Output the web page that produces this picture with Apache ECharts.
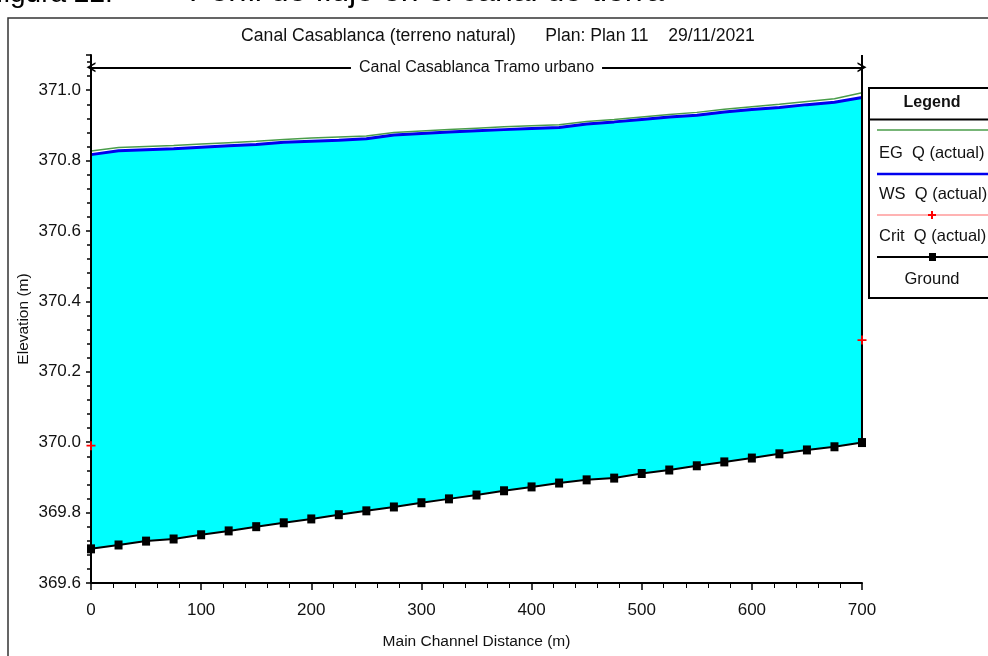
<!DOCTYPE html>
<html><head><meta charset="utf-8">
<script src="https://cdn.jsdelivr.net/npm/echarts/dist/echarts.min.js"></script>
<style>html,body{margin:0;padding:0;background:#fff}#c{width:988px;height:656px}</style>
</head><body><div id="c"></div><script>
// ---- data ----
const distances = [0,25,50,75,100,125,150,175,200,225,250,275,300,325,350,375,400,425,450,475,500,525,550,575,600,625,650,675,700];
const groundElev = [369.697,369.708,369.719,369.725,369.737,369.748,369.760,369.771,369.782,369.794,369.805,369.816,369.828,369.839,369.850,369.862,369.873,369.884,369.893,369.898,369.911,369.921,369.933,369.944,369.955,369.967,369.978,369.987,369.999];
const wsElev = [370.817,370.828,370.831,370.834,370.838,370.842,370.846,370.852,370.855,370.858,370.862,370.873,370.877,370.881,370.885,370.888,370.891,370.894,370.904,370.910,370.917,370.924,370.929,370.938,370.945,370.951,370.959,370.966,370.979];
const egElev = [370.827,370.837,370.840,370.843,370.847,370.851,370.855,370.860,370.864,370.867,370.870,370.880,370.884,370.888,370.892,370.896,370.899,370.902,370.911,370.917,370.924,370.931,370.937,370.946,370.953,370.960,370.968,370.976,370.993];
const critDist = [0,700];
const critElev = [369.99,370.29];
const reachName = 'Canal Casablanca Tramo urbano';
const reachLevel = 371.065;
const chartTitle = 'Canal Casablanca (terreno natural)      Plan: Plan 11    29/11/2021';
const legendNames = ['EG  Q (actual)','WS  Q (actual)','Crit  Q (actual)','Ground'];

const FONT = '"Liberation Sans",Arial,sans-serif';
const pairs = (xs, ys) => xs.map((x,i)=>[x, ys[i]]);
const plusPath = 'path://M4,0H6V4H10V6H6V10H4V6H0V4H4Z';
const chevron = 'path://M5,0L10,9L8.2,9L5,3.4L1.8,9L0,9Z';

const chart = echarts.init(document.getElementById('c'), null, {renderer:'canvas'});
const option = {
  animation:false,
  backgroundColor:'#fff',
  grid:{left:91, right:126, top:55, bottom:73, containLabel:false, outerBoundsMode:'none'},
  xAxis:{
    type:'value', min:0, max:700, interval:100, z:5,
    name:'Main Channel Distance (m)', nameLocation:'middle', nameGap:51,
    nameTextStyle:{fontFamily:FONT, fontSize:15.5, color:'#111'},
    axisLine:{show:true, onZero:false, lineStyle:{color:'#000', width:2}},
    axisTick:{show:true, length:7, lineStyle:{color:'#000', width:1.5}},
    minorTick:{show:true, splitNumber:5, length:5, lineStyle:{color:'#000', width:1}},
    axisLabel:{fontFamily:FONT, fontSize:17, color:'#111', margin:19},
    splitLine:{show:false}
  },
  yAxis:{
    type:'value', min:369.6, max:371.1, interval:0.2, z:5,
    name:'Elevation (m)', nameLocation:'middle', nameGap:59, nameRotate:90, nameMoveOverlap:false,
    nameTextStyle:{fontFamily:FONT, fontSize:15.5, color:'#111'},
    axisLine:{show:true, onZero:false, lineStyle:{color:'#000', width:2}},
    axisTick:{show:true, length:5, lineStyle:{color:'#000', width:1.5}},
    minorTick:{show:true, splitNumber:5, length:4, lineStyle:{color:'#000', width:1.5}},
    axisLabel:{fontFamily:FONT, fontSize:17, color:'#111', margin:10, showMaxLabel:false,
      formatter:v=>v.toFixed(1)},
    splitLine:{show:false}
  },
  series:[
    {type:'line', name:'wsFill', data:pairs(distances, wsElev), symbol:'none', z:-2,
     lineStyle:{opacity:0}, areaStyle:{color:'#00FFFF', opacity:1, origin:'start'}, silent:true},
    {type:'line', name:'groundFill', data:pairs(distances, groundElev), symbol:'none', z:-1,
     lineStyle:{opacity:0}, areaStyle:{color:'#FFFFFF', opacity:1, origin:'start'}, silent:true},
    {type:'line', name:legendNames[3], data:pairs(distances, groundElev), symbol:'rect', symbolSize:[8,9],
     itemStyle:{color:'#000'}, lineStyle:{color:'#000', width:2}, z:6,
     markLine:{silent:true, symbol:'none', animation:false,
       lineStyle:{color:'#000', width:2, type:'solid'},
       label:{show:false},
       data:[[{coord:[700, groundElev[groundElev.length-1]]},{coord:[700, 371.1]}]]}},
    {type:'line', name:legendNames[1], data:pairs(distances, wsElev), symbol:'none',
     lineStyle:{color:'#0000EE', width:3}, z:4},
    {type:'line', name:legendNames[0], data:pairs(distances, egElev), symbol:'none',
     lineStyle:{color:'#4a9d4a', width:1.5}, z:4,
     markLine:{silent:true, symbol:[chevron, chevron], symbolSize:[10,9], animation:false,
       lineStyle:{color:'#000', width:2, type:'solid'},
       label:{show:true, position:'insideMiddle', formatter:reachName, fontFamily:FONT, fontSize:16,
         color:'#111', backgroundColor:'#fff', padding:[1,8]},
       data:[[{coord:[0, reachLevel]},{coord:[700, reachLevel]}]]}},
    {type:'line', name:legendNames[2], data:pairs(critDist, critElev), symbol:plusPath, symbolSize:9,
     itemStyle:{color:'#ff0000'}, lineStyle:{width:0, opacity:0}, z:7}
  ],
  graphic:[
    {type:'rect', shape:{x:8, y:18, width:1000, height:700}, style:{fill:'none', stroke:'#333', lineWidth:1.5}, z:100, silent:true},
    {type:'text', x:-4, y:8, style:{text:'figura 22.', fontFamily:FONT, fontSize:28, fill:'#000', verticalAlign:'bottom'}, z:100},
    {type:'text', x:189, y:8, style:{text:'Perfil de flujo en el canal de tierra', fontFamily:FONT, fontSize:32, fill:'#000', verticalAlign:'bottom'}, z:100},
    {type:'text', x:498, y:36, style:{text:chartTitle, fontFamily:FONT, fontSize:17.6, fill:'#111', align:'center', verticalAlign:'middle'}, z:100},
    // legend table
    {type:'rect', shape:{x:869, y:88, width:140, height:210}, style:{fill:'#fff', stroke:'#000', lineWidth:2}, z:100},
    {type:'line', shape:{x1:869, y1:119.5, x2:1000, y2:119.5}, style:{stroke:'#000', lineWidth:2}, z:101},
    {type:'text', x:932, y:103, style:{text:'Legend', fontFamily:FONT, fontSize:16, fontWeight:'bold', fill:'#111', align:'center', verticalAlign:'middle'}, z:101},
    {type:'line', shape:{x1:877, y1:130, x2:988, y2:130}, style:{stroke:'#4a9d4a', lineWidth:1.5}, z:101},
    {type:'text', x:879, y:153, style:{text:legendNames[0], fontFamily:FONT, fontSize:16.5, fill:'#111', verticalAlign:'middle'}, z:101},
    {type:'line', shape:{x1:877, y1:174, x2:988, y2:174}, style:{stroke:'#0000EE', lineWidth:2.5}, z:101},
    {type:'text', x:879, y:194, style:{text:legendNames[1], fontFamily:FONT, fontSize:16.5, fill:'#111', verticalAlign:'middle'}, z:101},
    {type:'line', shape:{x1:877, y1:215, x2:988, y2:215}, style:{stroke:'#ff9a9a', lineWidth:1.5}, z:101},
    {type:'rect', shape:{x:931, y:211, width:2, height:8}, style:{fill:'#ff0000'}, z:102},
    {type:'rect', shape:{x:928, y:214, width:8, height:2}, style:{fill:'#ff0000'}, z:102},
    {type:'text', x:879, y:236, style:{text:legendNames[2], fontFamily:FONT, fontSize:16.5, fill:'#111', verticalAlign:'middle'}, z:101},
    {type:'line', shape:{x1:877, y1:257, x2:988, y2:257}, style:{stroke:'#000', lineWidth:2}, z:101},
    {type:'rect', shape:{x:929, y:253, width:7, height:8}, style:{fill:'#000'}, z:102},
    {type:'text', x:932, y:279, style:{text:legendNames[3], fontFamily:FONT, fontSize:16.5, fill:'#111', align:'center', verticalAlign:'middle'}, z:101}
  ]
};
chart.setOption(option);
</script></body></html>
